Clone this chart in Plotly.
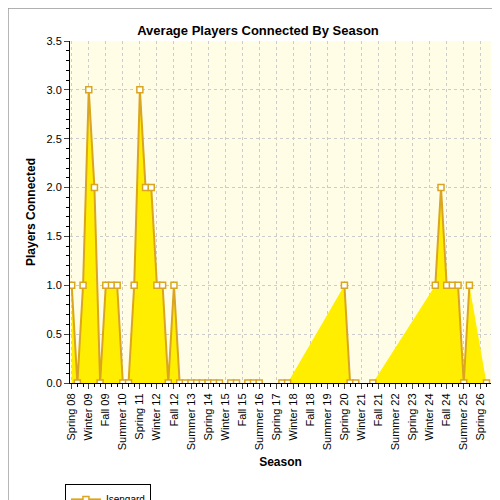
import plotly.graph_objects as go

seasons = ["Spring", "Summer", "Fall", "Winter"]
categories = []
for i in range(74):
    s = seasons[i % 4]
    yr = 8 + (i + 1) // 4 if s == "Winter" else 8 + i // 4
    categories.append(f"{s} {yr:02d}")

values = [1, 0, 1, 3, 2, 0, 1, 1, 1, 0, 0, 1, 3, 2, 2, 1, 1, 0, 1,
          0, 0, 0, 0, 0, 0, 0, 0, None, 0, 0, None, 0, 0, 0, None, None, None, 0, 0,
          None, None, None, None, None, None, None, None, None, 1, 0, 0, None, None, 0,
          None, None, None, None, None, None, None, None, None, None, 1, 2, 1, 1, 1, 0, 1,
          None, None, 0]

xs = list(range(len(values)))
fx = [x for x, v in zip(xs, values) if v is not None]
fy = [v for v in values if v is not None]

fig = go.Figure()
fig.add_trace(go.Scatter(x=fx, y=fy, mode="lines", fill="tozeroy", fillcolor="#ffee00",
                         line=dict(width=0), showlegend=False, hoverinfo="skip"))
fig.add_trace(go.Scatter(x=xs, y=values, mode="lines+markers", name="Isengard",
                         connectgaps=False, line=dict(color="#daa520", width=2),
                         marker=dict(symbol="square", size=6, color="white",
                                     line=dict(color="#daa520", width=1.5))))

tickvals = list(range(0, 73, 3))
fig.update_layout(
    width=500, height=500,
    margin=dict(l=62, r=17, t=33, b=125, autoexpand=False),
    paper_bgcolor="white", plot_bgcolor="#fffde6",
    title=dict(text="<b>Average Players Connected By Season</b>", x=0.5, y=0.965,
               font=dict(family="Liberation Sans", size=13, color="black")),
    font=dict(family="Liberation Sans", size=11, color="black"),
    xaxis=dict(range=[-0.3, 73.8], tickvals=tickvals, automargin=False,
               ticktext=[categories[i] for i in tickvals], tickangle=-90,
               showgrid=True, gridcolor="#cccccc", griddash="dot",
               ticks="outside", ticklen=5, showline=True, linecolor="black",
               minor=dict(dtick=1, ticks="outside", ticklen=3, tickcolor="black"),
               title=dict(text="<b>Season</b>", font=dict(size=12), standoff=8), zeroline=False),
    yaxis=dict(range=[0, 3.5], dtick=0.5, tickformat=".1f", automargin=False,
               showgrid=True, gridcolor="#cccccc", griddash="dot",
               ticks="outside", ticklen=5, showline=True, linecolor="black",
               minor=dict(dtick=0.1, ticks="outside", ticklen=3, tickcolor="black"),
               title=dict(text="<b>Players Connected</b>", font=dict(size=12), standoff=8), zeroline=False),
    legend=dict(x=-0.012, y=-0.295, xanchor="left", yanchor="top", bgcolor="white",
                bordercolor="black", borderwidth=1, font=dict(size=10)),
    shapes=[dict(type="rect", xref="paper", yref="paper", x0=-0.147, x1=1.038,
                 y0=-0.363, y1=1.096, line=dict(color="#888888", width=1))],
)
fig.write_html("out.html")
